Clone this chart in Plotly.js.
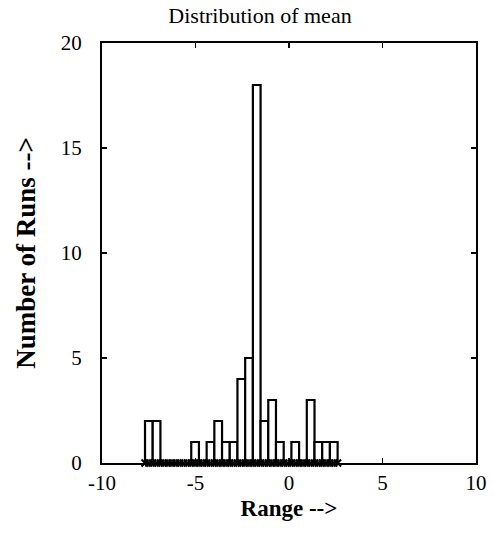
<!DOCTYPE html>
<html>
<head>
<meta charset="utf-8">
<script src="https://cdn.plot.ly/plotly-3.0.1.min.js"></script>
<style>html,body{margin:0;padding:0;background:#fff;}#chart{width:494px;height:537px;}</style>
</head>
<body>
<div id="chart"></div>
<script>
// Histogram of run means (25 bins between the minimum and maximum value)
const dataMin = -7.7;
const dataMax = 2.6;
const binCounts = [2, 2, 0, 0, 0, 0, 1, 0, 1, 2, 1, 1, 4, 5, 18, 2, 3, 1, 0, 1, 0, 3, 1, 1, 1];
const xTicks = [-10, -5, 0, 5, 10];
const yTicks = [0, 5, 10, 15, 20];

const nBins = binCounts.length;
const binWidth = (dataMax - dataMin) / nBins;
const binCenters = binCounts.map((_, i) => dataMin + binWidth * (i + 0.5));
// positions of the small markers along the baseline (bin edges and centres)
const rugX = [];
for (let i = 0; i <= nBins * 2; i++) rugX.push(dataMin + binWidth * i / 2);
const rugY = rugX.map(() => 0);

const serif = '"Liberation Serif", "DejaVu Serif", serif';

const traces = [
  {
    type: 'bar',
    x: binCenters,
    y: binCounts,
    width: binWidth,
    marker: {color: '#ffffff', line: {color: '#000000', width: 2.2}},
    hoverinfo: 'x+y'
  },
  {
    type: 'scatter',
    mode: 'markers',
    x: rugX,
    y: rugY,
    marker: {symbol: 'x-thin-open', size: 7, color: '#000', line: {color: '#000', width: 2}},
    cliponaxis: false,
    hoverinfo: 'skip'
  }
];

const layout = {
  width: 494,
  height: 537,
  margin: {l: 102, r: 18, t: 43, b: 74},
  paper_bgcolor: '#fff',
  plot_bgcolor: '#fff',
  showlegend: false,
  bargap: 0,
  font: {family: serif, color: '#000', size: 20},
  title: {
    text: 'Distribution of mean',
    font: {family: serif, size: 22, color: '#000'},
    x: 260 / 494, xanchor: 'center', xref: 'container',
    y: 1 - 15 / 537, yanchor: 'middle', yref: 'container'
  },
  xaxis: {
    range: [-10, 10],
    tickvals: xTicks,
    ticktext: xTicks.map(String),
    ticks: 'inside', ticklen: 5, tickwidth: 1.5, tickcolor: '#000',
    showline: true, linecolor: '#000', linewidth: 2, mirror: 'ticks',
    showgrid: false, zeroline: false,
    tickfont: {family: serif, size: 21, color: '#000'},
    title: {text: '<b>Range --></b>', font: {family: serif, size: 23, color: '#000'}, standoff: 6}
  },
  yaxis: {
    range: [0, 20],
    tickvals: yTicks,
    ticktext: yTicks.map(String),
    ticks: 'inside', ticklen: 5, tickwidth: 1.5, tickcolor: '#000',
    showline: true, linecolor: '#000', linewidth: 2, mirror: 'ticks',
    showgrid: false, zeroline: false,
    ticklabelstandoff: 14,
    tickfont: {family: serif, size: 21, color: '#000'},
    title: {text: '<b>Number of Runs --></b>', font: {family: serif, size: 27, color: '#000'}, standoff: 17}
  }
};

Plotly.newPlot('chart', traces, layout, {displayModeBar: false, staticPlot: true});
</script>
</body>
</html>
